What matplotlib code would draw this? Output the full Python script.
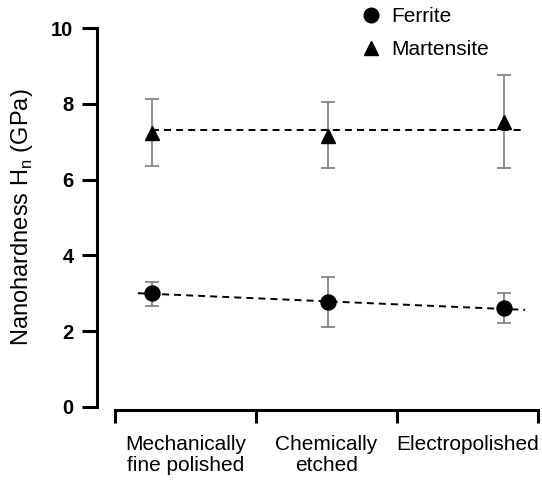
import numpy as np
import matplotlib
matplotlib.use("Agg")
import matplotlib.pyplot as plt
from matplotlib.lines import Line2D

plt.rcParams['font.family'] = ['Liberation Sans', 'DejaVu Sans']

categories = ["Mechanically\nfine polished", "Chemically\netched", "Electropolished"]
ferrite = [3.00, 2.76, 2.60]
ferrite_lo = [2.66, 2.10, 2.22]
ferrite_hi = [3.30, 3.43, 3.02]
martensite = [7.24, 7.16, 7.51]
martensite_lo = [6.35, 6.31, 6.30]
martensite_hi = [8.13, 8.06, 8.77]
ferrite_fit_x = [-0.08, 2.12]
martensite_fit_x = [0.0, 2.12]
yticks = [0, 2, 4, 6, 8, 10]

W, H = 542, 484
fig = plt.figure(figsize=(W / 100, H / 100), dpi=100)

# main axes (pixel layout)
left, right, top, bottom = 97, 538, 28, 407
ax = fig.add_axes([left / W, (H - bottom) / H, (right - left) / W, (bottom - top) / H])
ax.set_facecolor('none')
x = np.arange(len(categories))
ax.set_xlim((left - 152) / 176, (right - 152) / 176)
ax.set_ylim(0, 10)

ecol = '#7a7a7a'
f = np.array(ferrite); m = np.array(martensite)
ax.errorbar(x, f, yerr=[f - np.array(ferrite_lo), np.array(ferrite_hi) - f], fmt='none',
            ecolor=ecol, elinewidth=1.2, capsize=5.2, capthick=1.2, zorder=1)
ax.errorbar(x, m, yerr=[m - np.array(martensite_lo), np.array(martensite_hi) - m], fmt='none',
            ecolor=ecol, elinewidth=1.2, capsize=5.2, capthick=1.2, zorder=1)

# trend lines
p = np.polyfit(x, f, 1)
fx = np.array(ferrite_fit_x)
ax.plot(fx, np.polyval(p, fx), color='black', lw=1.4, ls=(0, (3.6, 2.6)), zorder=2)
mx = np.array(martensite_fit_x)
ax.plot(mx, np.full_like(mx, m.mean()), color='black', lw=1.4, ls=(0, (3.6, 2.6)), zorder=2)

ax.plot(x, f, 'o', color='black', ms=10.8, zorder=3)
ax.plot(x, m, '^', color='black', ms=10.5, zorder=3)

for s in ['top', 'right', 'bottom']:
    ax.spines[s].set_visible(False)
ax.spines['left'].set_linewidth(2.2)
ax.set_xticks([])
ax.set_yticks(yticks)
ax.tick_params(axis='y', length=11, width=2.2, pad=6.0, labelsize=14.5)
for t in ax.get_yticklabels():
    t.set_fontweight('bold')
ax.set_ylabel('Nanohardness H$_\\mathregular{n}$ (GPa)', fontsize=17)
ax.yaxis.set_label_coords((35 - left) / (right - left), 0.5)

# bracket-style category axis
bl, br, by = 115, 538, 410
ax2 = fig.add_axes([bl / W, (H - by) / H, (br - bl) / W, 0.01])
ax2.set_facecolor('none')
ax2.set_xlim(0, len(categories))
for s in ['top', 'right', 'left']:
    ax2.spines[s].set_visible(False)
ax2.spines['bottom'].set_linewidth(2.2)
ax2.set_yticks([])
ax2.set_xticks(np.arange(len(categories) + 1))
ax2.set_xticklabels([])
ax2.set_xticks(np.arange(len(categories)) + 0.5, minor=True)
ax2.set_xticklabels(categories, minor=True, fontsize=15, linespacing=1.15)
ax2.tick_params(axis='x', which='major', length=9.5, width=2.2)
ax2.tick_params(axis='x', which='minor', length=0, pad=18)

handles = [Line2D([], [], marker='o', color='black', ls='none', ms=10.5),
           Line2D([], [], marker='^', color='black', ls='none', ms=10.5)]
fig.legend(handles, ['Ferrite', 'Martensite'], loc='upper left',
           bbox_to_anchor=(361 / W, 1 - 7 / H), frameon=False, fontsize=15,
           handlelength=1.0, handletextpad=0.45, labelspacing=0.68, borderpad=0,
           borderaxespad=0)

fig.savefig('out.png', dpi=100)
